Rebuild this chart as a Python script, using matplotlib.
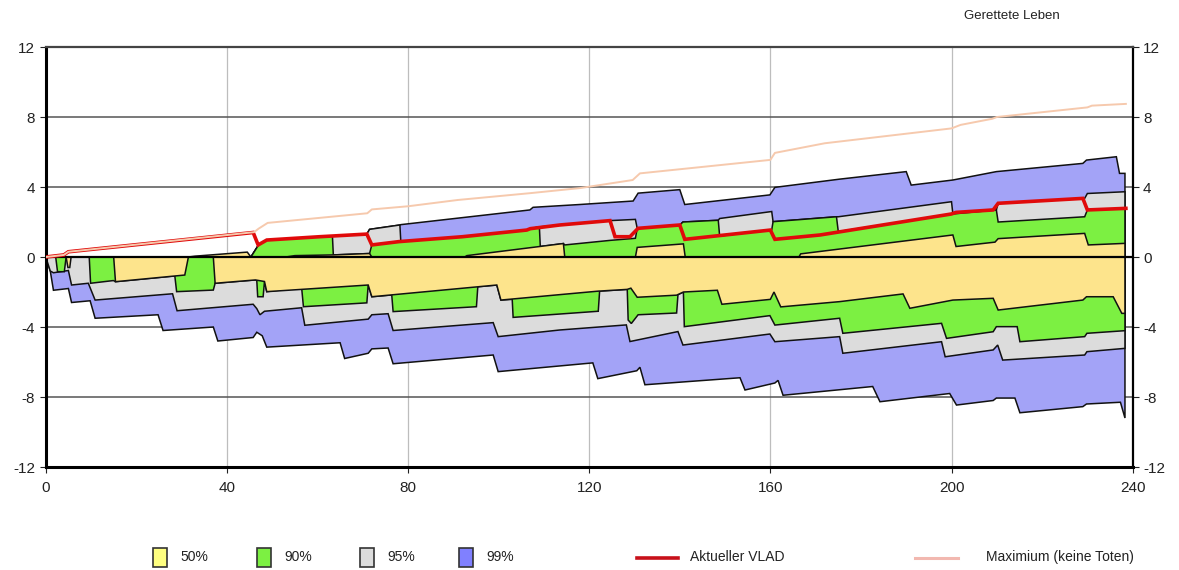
import numpy as np
import matplotlib
matplotlib.use('Agg')
import matplotlib.pyplot as plt
from matplotlib.patches import Rectangle
from matplotlib.lines import Line2D

plt.rcParams['font.family'] = ['Liberation Sans', 'DejaVu Sans']
plt.rcParams['axes.unicode_minus'] = False

# ---- band limits above zero (x = Fälle, y = gerettete Leben) ----
u50_x = [0, 31.5, 33, 44.5, 45.3, 53, 55, 63.5, 71.5, 72, 92.5, 93, 114.3, 114.6, 130.2, 130.6,
         140.8, 141.2, 166.3, 166.7, 200.3, 201, 209.6, 210.3, 229.4, 230.2, 238.3]
u50_y = [0, 0, 0.05, 0.28, 0, 0, 0.08, 0.12, 0.2, 0, 0, 0.08, 0.77, 0, 0, 0.55,
         0.75, 0, 0, 0.18, 1.26, 0.6, 0.85, 1.05, 1.35, 0.69, 0.78]

u90_x = [0, 45.3, 47, 48.8, 60.5, 63.3, 63.5, 71.5, 72, 78, 92, 106.2, 107, 109, 109.2, 114.3,
         114.6, 124.6, 130.2, 130.6, 140, 140.7, 148.5, 148.8, 160.3, 160.6, 174.6, 175, 200.3,
         209.9, 210.3, 229.4, 230, 238.3]
u90_y = [0, 0, 0.69, 0.97, 1.16, 1.2, 0.12, 0.2, 0.69, 0.88, 1.16, 1.54, 1.62, 1.72, 0.6, 0.77,
         0.69, 0.95, 1.07, 1.64, 1.83, 2.0, 2.1, 1.2, 1.55, 2.02, 2.3, 1.45, 2.46,
         2.69, 2.0, 2.3, 2.69, 2.78]

u95_x = [0, 45.3, 47, 48.8, 60.5, 63.3, 70.9, 71.5, 78.2, 78.4, 92, 106.2, 107, 109, 113.5,
         124.6, 130.2, 130.6, 140, 140.7, 148.5, 148.8, 160.3, 160.6, 174.6, 175, 200.0, 200.3,
         209.9, 210.3, 229.4, 230, 238.3]
u95_y = [0, 0, 0.69, 0.97, 1.16, 1.2, 1.31, 1.58, 1.83, 0.88, 1.16, 1.54, 1.62, 1.72, 1.83,
         2.08, 2.15, 1.64, 1.83, 2.0, 2.1, 2.2, 2.6, 2.02, 2.3, 2.3, 3.16, 2.46,
         2.69, 3.07, 3.35, 3.63, 3.73]

u99_x = [0, 45.3, 47, 48.8, 60.5, 63.3, 70.9, 71.5, 78.2, 78.4, 106.9, 107.6, 117.9, 129.7,
         130.8, 140, 141.1, 159.9, 161, 175.3, 190, 191.1, 200.3, 209.9, 229, 229.8, 236.4,
         237.1, 238.3]
u99_y = [0, 0, 0.69, 0.97, 1.16, 1.2, 1.31, 1.58, 1.83, 1.85, 2.69, 2.84, 3.0, 3.2,
         3.65, 3.85, 3.0, 3.55, 3.98, 4.45, 4.88, 4.11, 4.4, 4.88, 5.35, 5.54, 5.73,
         4.78, 4.78]

# ---- band limits below zero ----
l50_x = [0, 4.5, 4.9, 5.3, 5.6, 15.0, 15.4, 30.7, 31.5, 37.0, 37.4, 46.3, 48.3, 48.8, 71.2,
         72.0, 99.6, 100.5, 113.5, 122.0, 128.4, 129.2, 130.6, 139.3, 140.8, 148.3, 149.3,
         160.0, 160.8, 162.3, 175.3, 189.3, 190.8, 200.3, 209.2, 210.3, 229.0, 229.8, 235.7,
         237.6, 238.3]
l50_y = [0, 0, -0.6, -0.6, 0, 0, -1.41, -1.03, 0, 0, -1.5, -1.31, -1.4, -1.98, -1.6,
         -2.27, -1.6, -2.46, -2.15, -1.95, -1.85, -1.78, -2.3, -2.18, -2.0, -1.9, -2.7,
         -2.42, -2.0, -2.85, -2.55, -2.11, -2.93, -2.46, -2.36, -3.03, -2.46, -2.27, -2.27,
         -3.22, -3.22]

l90_x = [0, 2.2, 2.6, 4.1, 4.5, 9.6, 9.9, 14.8, 15.0, 15.4, 28.5, 28.9, 37.0, 37.4, 46.3,
         46.6, 46.8, 48.0, 48.3, 48.8, 56.5, 56.9, 70.9, 71.2, 72.0, 76.4, 76.7, 95.1, 95.4,
         99.6, 100.5, 103.0, 103.2, 122.0, 122.3, 128.4, 128.6, 129.3, 130.8, 139.3, 139.6,
         140.8, 141.0, 159.9, 161.0, 175.3, 176.0, 197.8, 198.9, 209.2, 209.9, 214.5, 215.1,
         229.4, 229.9, 238.3]
l90_y = [0, 0, -0.84, -0.84, 0, 0, -1.5, -1.35, -1.35, -1.41, -1.08, -1.98, -1.89, -1.5, -1.31,
         -1.35, -2.27, -2.27, -1.4, -1.98, -1.75, -2.84, -2.62, -1.6, -2.27, -2.17, -3.12, -2.84,
         -1.7, -1.6, -2.46, -2.42, -3.45, -3.1, -1.95, -1.85, -3.6, -3.8, -3.3, -3.2, -2.15,
         -2.0, -3.98, -3.35, -3.89, -3.5, -4.36, -3.79, -4.65, -4.27, -3.98, -3.98, -4.84,
         -4.55, -4.36, -4.21]

l95_x = [0, 1.0, 1.7, 5.0, 5.7, 9.4, 10.9, 28.0, 29.0, 45.8, 46.6, 47.3, 48.3, 56.5, 57.2,
         71.2, 72.0, 75.6, 76.7, 98.8, 99.9, 113.5, 128.2, 129.0, 139.6, 140.7, 159.9, 161.0,
         175.3, 176.0, 197.8, 198.6, 209.2, 210.2, 211.3, 229.4, 229.9, 238.3]
l95_y = [0, -0.8, -0.9, -0.77, -1.6, -1.5, -2.46, -2.1, -3.07, -2.7, -2.95, -3.3, -3.1, -2.9,
         -3.9, -3.55, -3.3, -3.24, -4.2, -3.75, -4.55, -4.17, -3.88, -4.83, -4.26, -5.03,
         -4.4, -4.84, -4.55, -5.5, -4.84, -5.7, -5.31, -5.03, -5.89, -5.6, -5.41, -5.22]

l99_x = [0, 1.0, 1.7, 5.0, 5.7, 9.8, 10.9, 24.8, 25.9, 37, 38, 45.8, 46.6, 47.8, 48.8, 65, 66,
         71.2, 72, 75.6, 76.7, 98.8, 99.9, 120.8, 121.9, 130.5, 131.2, 132.3, 153.3, 154.4,
         161, 161.7, 162.8, 182.6, 184.2, 199.6, 201.1, 209.2, 209.9, 214, 215.1, 229, 229.8,
         237.3, 238.3]
l99_y = [0, -0.8, -1.9, -1.8, -2.6, -2.5, -3.5, -3.3, -4.2, -4.0, -4.8, -4.6, -4.3, -4.5,
         -5.15, -4.9, -5.8, -5.5, -5.25, -5.2, -6.1, -5.6, -6.55, -6.05, -6.95, -6.5, -6.3,
         -7.3, -6.9, -7.6, -7.2, -7.05, -7.9, -7.4, -8.27, -7.8, -8.46, -8.2, -8.06, -8.06,
         -8.9, -8.55, -8.4, -8.3, -9.2]

# ---- lines ----
vlad_x = [0, 4, 5, 45.8, 46.9, 48.8, 60.5, 70.9, 72, 78, 92, 106.2, 107, 113.5, 124.6, 125.7,
          129, 130.8, 140, 141.1, 160, 161, 171, 200, 201, 209.2, 210.3, 229, 230, 238.5]
vlad_y = [0, 0.12, 0.3, 1.4, 0.69, 0.97, 1.16, 1.31, 0.69, 0.88, 1.16, 1.54, 1.62, 1.83, 2.08,
          1.16, 1.16, 1.64, 1.83, 1.01, 1.54, 1.01, 1.26, 2.46, 2.55, 2.69, 3.07, 3.35, 2.69, 2.78]

max_x = [0, 4, 5, 46, 47, 49, 71, 72, 80, 91, 107, 118, 129.6, 131.2, 160, 161, 172, 200, 202,
         209, 210, 230, 231, 238.5]
max_y = [0, 0.12, 0.3, 1.42, 1.62, 1.95, 2.5, 2.72, 2.9, 3.26, 3.65, 3.94, 4.4, 4.78, 5.55,
         5.95, 6.5, 7.35, 7.55, 7.9, 8.0, 8.55, 8.65, 8.75]

bands = [
    ('99%', u99_x, u99_y, l99_x, l99_y, '#a3a3f7', '#8080ff'),
    ('95%', u95_x, u95_y, l95_x, l95_y, '#dcdcdc', '#dcdcdc'),
    ('90%', u90_x, u90_y, l90_x, l90_y, '#7cf042', '#7cf042'),
    ('50%', u50_x, u50_y, l50_x, l50_y, '#fde48c', '#ffff80'),
]

fig = plt.figure(figsize=(11.79, 5.70), dpi=100)
ax = fig.add_axes([0.0388, 0.1807, 0.9219, 0.7368])

for name, ux, uy, lx, ly, col, lcol in bands:
    xs = np.concatenate([ux, lx[::-1]])
    ys = np.concatenate([uy, ly[::-1]])
    ax.fill(xs, ys, facecolor=col, edgecolor='#111111', lw=1.1, zorder=2)

ax.axhline(0, color='black', lw=1.6, zorder=3)
ax.plot(vlad_x, vlad_y, color='#e00a0a', lw=2.6, zorder=4, solid_joinstyle='miter')
ax.plot(max_x, max_y, color='#f6c9ad', lw=1.4, zorder=5)

ax.set_xlim(0, 240)
ax.set_ylim(-12, 12)
ax.set_xticks(np.arange(0, 241, 40))
ax.set_yticks(np.arange(-12, 13, 4))
ax.set_axisbelow(True)
ax.xaxis.grid(True, color='#bdbdbd', lw=0.9)
ax.yaxis.grid(True, color='#555555', lw=1.1)
ax.tick_params(axis='both', labelsize=11, colors='#222222', direction='out', length=4,
               right=True, labelright=True)
ax.tick_params(axis='x', pad=6)
for side in ['left', 'bottom']:
    ax.spines[side].set_linewidth(2.2)
    ax.spines[side].set_color('black')
ax.spines['right'].set_linewidth(1.6)
ax.spines['top'].set_linewidth(1.6)
ax.spines['top'].set_color('#444444')

fig.text(1012 / 1179, 1 - 16 / 570, 'Gerettete Leben', ha='center', va='center',
         fontsize=9.5, color='#222222')

# legend row at the bottom
W, H = 1179, 570
for (name, ux, uy, lx, ly, col, lcol), px in zip(bands[::-1], [153, 257, 360, 459]):
    fig.add_artist(Rectangle((px / W, 1 - 567 / H), 14 / W, 19 / H, transform=fig.transFigure,
                             facecolor=lcol, edgecolor='#333333', lw=1.2))
    fig.text((px + 27) / W, 1 - 557 / H, name, ha='left', va='center', fontsize=10,
             color='#222222')

fig.add_artist(Line2D([637 / W, 678 / W], [1 - 558 / H] * 2, transform=fig.transFigure,
                      color='#c8101a', lw=2.6))
fig.text(690 / W, 1 - 557 / H, 'Aktueller VLAD', ha='left', va='center', fontsize=10,
         color='#222222')
fig.add_artist(Line2D([915 / W, 958 / W], [1 - 558 / H] * 2, transform=fig.transFigure,
                      color='#f2b8b0', lw=2.2))
fig.text(986 / W, 1 - 557 / H, 'Maximium (keine Toten)', ha='left', va='center', fontsize=10,
         color='#222222')

fig.savefig('out.png', dpi=100)
